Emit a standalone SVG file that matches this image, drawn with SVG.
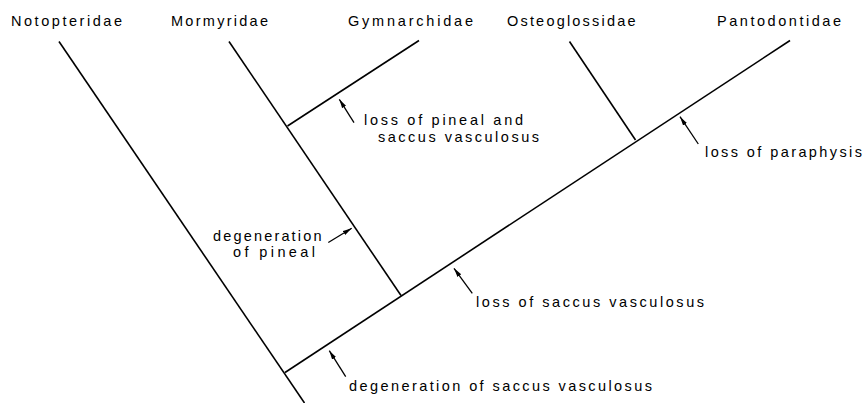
<svg xmlns="http://www.w3.org/2000/svg" width="865" height="403" viewBox="0 0 865 403">
<style>
text{font-family:"Liberation Sans",Arial,sans-serif;font-size:14.5px;fill:#000}
.br{stroke:#000;stroke-width:1.6;fill:none;stroke-linecap:butt}
.ar{stroke:#000;stroke-width:1.3;fill:none;marker-end:url(#ah)}
</style>
<defs>
<marker id="ah" markerUnits="userSpaceOnUse" markerWidth="9" markerHeight="6" refX="9" refY="3" orient="auto">
<path d="M0,0.7 L9,3 L0,5.3 z" fill="#000"/>
</marker>
</defs>
<rect width="865" height="403" fill="#fff"/>
<g id="connectors">
<line class="br" x1="59" y1="41.5" x2="304.5" y2="403"/>
<line class="br" x1="285" y1="372.5" x2="790" y2="40.5"/>
<line class="br" x1="229" y1="41.5" x2="401" y2="295.5"/>
<line class="br" x1="287.5" y1="126" x2="419" y2="40.5"/>
<line class="br" x1="569.5" y1="41.5" x2="635.5" y2="140"/>
</g>
<g id="arrows">
<line class="ar" x1="354" y1="122.7" x2="339.3" y2="99.3"/>
<line class="ar" x1="698.3" y1="144" x2="680" y2="116.7"/>
<line class="ar" x1="328.3" y1="242.5" x2="351.7" y2="228.3"/>
<line class="ar" x1="472.3" y1="293.3" x2="454" y2="268.3"/>
<line class="ar" x1="345.7" y1="376.7" x2="329.3" y2="350.7"/>
</g>
<g id="Notopteridae"><text x="11" y="26" textLength="111" lengthAdjust="spacing">Notopteridae</text></g>
<g id="Mormyridae"><text x="171" y="26" textLength="97" lengthAdjust="spacing">Mormyridae</text></g>
<g id="Gymnarchidae"><text x="348" y="26" textLength="125" lengthAdjust="spacing">Gymnarchidae</text></g>
<g id="Osteoglossidae"><text x="507" y="26" textLength="128.5" lengthAdjust="spacing">Osteoglossidae</text></g>
<g id="Pantodontidae"><text x="717" y="26" textLength="124" lengthAdjust="spacing">Pantodontidae</text></g>
<g id="note-pineal-saccus">
<text x="364" y="125" textLength="159" lengthAdjust="spacing">loss of pineal and</text>
<text x="378" y="141.5" textLength="161" lengthAdjust="spacing">saccus  vasculosus</text>
</g>
<g id="note-paraphysis"><text x="705" y="157" textLength="157" lengthAdjust="spacing">loss of paraphysis</text></g>
<g id="note-degeneration-pineal">
<text x="213" y="241" textLength="108.5" lengthAdjust="spacing">degeneration</text>
<text x="233" y="257" textLength="82" lengthAdjust="spacing">of pineal</text>
</g>
<g id="note-loss-saccus"><text x="476" y="307" textLength="228" lengthAdjust="spacing">loss of saccus  vasculosus</text></g>
<g id="note-degeneration-saccus"><text x="349" y="391" textLength="303" lengthAdjust="spacing">degeneration of saccus vasculosus</text></g>
</svg>
